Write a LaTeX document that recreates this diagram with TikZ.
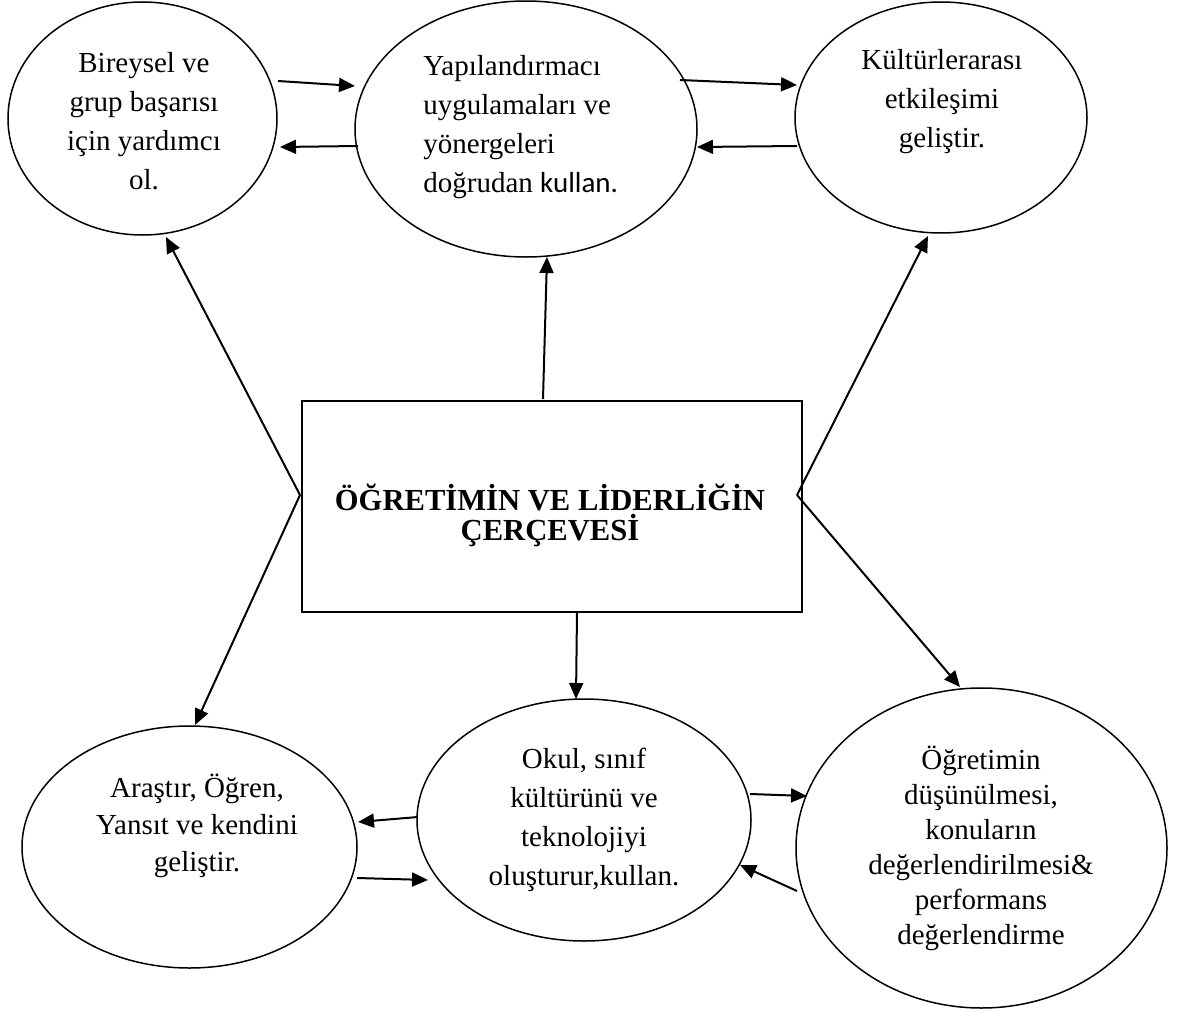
\documentclass[tikz,border=0pt]{standalone}
\usepackage{fontspec}
\setmainfont{Liberation Serif}
\newfontfamily\calibrifont{Carlito}
\usetikzlibrary{arrows.meta,calc,shapes.geometric}

\begin{document}
\begin{tikzpicture}[x=0.5pt,y=-0.5pt,
  bubble/.style={draw,line width=0.75pt,ellipse,inner sep=0pt},
  frame/.style={draw,line width=1.1pt,rectangle,inner sep=0pt},
  label/.style={inner sep=0pt,align=center,font=\fontsize{14.5}{19.5}\selectfont},
  link/.style={line width=1pt,-{Triangle[length=8pt,width=7pt]}}]

\useasboundingbox[fill=white] (0,0) rectangle (1184,1012);

% outlines
\node[bubble,minimum width=134.5pt,minimum height=116.5pt] (e1) at (142.5,118.5) {};
\node[bubble,minimum width=171pt,minimum height=128pt]     (e2) at (526,129) {};
\node[bubble,minimum width=146pt,minimum height=115.5pt]   (e3) at (941,117.5) {};
\node[bubble,minimum width=167.5pt,minimum height=121pt]   (e4) at (189.5,847) {};
\node[bubble,minimum width=167pt,minimum height=121pt]     (e5) at (584,820) {};
\node[bubble,minimum width=185.5pt,minimum height=160pt]   (e6) at (981.5,848) {};
\node[frame,minimum width=250pt,minimum height=105.5pt]    (core) at (552,506.5) {};

% texts
\node[label] (t1) at (144,121) {Bireysel ve\\grup başarısı\\için yardımcı\\ol.};
\node[label,align=left,anchor=west] (t2) at (423,127)
  {Yapılandırmacı\\uygulamaları ve\\yönergeleri\\doğrudan {\calibrifont kullan.}};
\node[label] (t3) at (942,102) {Kültürlerarası\\etkileşimi\\geliştir.};
\node[label,font=\fontsize{14.5}{18.5}\selectfont] (t4) at (197,826)
  {Araştır, Öğren,\\Yansıt ve kendini\\geliştir.};
\node[label] (t5) at (584,820) {Okul, sınıf\\kültürünü ve\\teknolojiyi\\oluşturur,kullan.};
\node[label,font=\fontsize{14.5}{17.5}\selectfont] (t6) at (981,848)
  {Öğretimin\\düşünülmesi,\\konuların\\değerlendirilmesi\&\\performans\\değerlendirme};
\node[inner sep=0pt,align=center,font=\fontsize{15.3}{15}\selectfont\bfseries] (tc) at (550,515)
  {ÖĞRETİMİN VE LİDERLİĞİN\\ÇERÇEVESİ};

% links between the top bubbles
\draw[link] ($(e1.center)+(135.5,-37.5)$) -- ($(e2.center)+(-171,-43)$);
\draw[link] ($(e2.center)+(-168,17)$) -- ($(e1.center)+(137.5,28.5)$);
\draw[link] ($(e2.center)+(154,-49)$) -- ($(e3.center)+(-144,-32.5)$);
\draw[link] ($(e3.center)+(-144,28.5)$) -- ($(e2.center)+(171,18)$);

% links from the central frame
\draw[link] ($(core.center)+(-252,-11.5)$) -- ($(e1.center)+(23.5,118.5)$);
\draw[link] ($(core.center)+(-252,-11.5)$) -- ($(e4.center)+(5.5,-122)$);
\draw[link] ($(core.center)+(-9,-107.5)$) -- ($(e2.center)+(21,128)$);
\draw[link] ($(core.center)+(245,-11.5)$) -- ($(e3.center)+(-13,118.5)$);
\draw[link] ($(core.center)+(245,-11.5)$) -- ($(e6.center)+(-21.5,-161)$);
\draw[link] ($(core.center)+(25,105.5)$) -- ($(e5.center)+(-8,-121)$);

% links between the bottom bubbles
\draw[link] ($(e5.center)+(-166,-3)$) -- ($(e4.center)+(168.5,-25)$);
\draw[link] ($(e4.center)+(167.5,31)$) -- ($(e5.center)+(-156,60)$);
\draw[link] ($(e5.center)+(166,-26)$) -- ($(e6.center)+(-174.5,-52)$);
\draw[link] ($(e6.center)+(-184.5,43)$) -- ($(e5.center)+(156,45)$);
\end{tikzpicture}
\end{document}
